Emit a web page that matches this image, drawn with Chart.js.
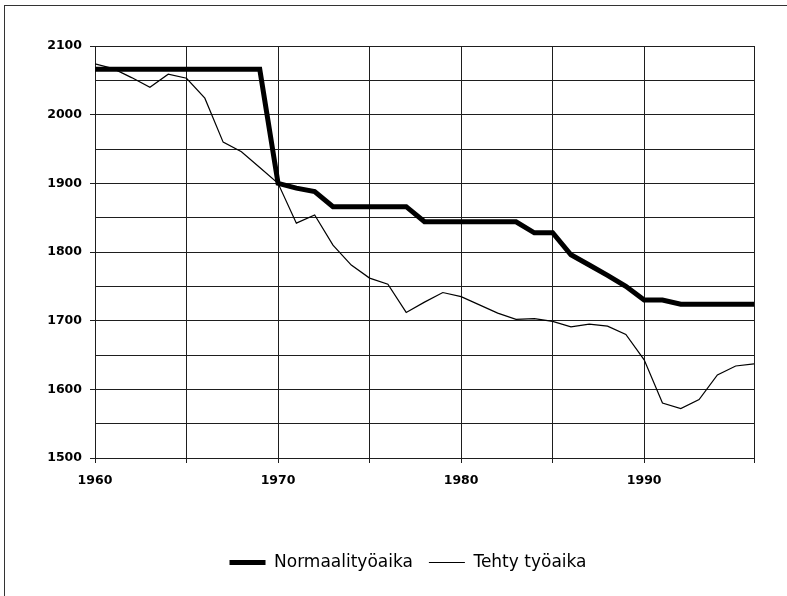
<!DOCTYPE html>
<html lang="fi">
<head>
    <meta charset="UTF-8">
    <title>Normaalityöaika ja tehty työaika</title>
    <script src="https://cdn.jsdelivr.net/npm/chart.js"></script>
    <style>
        body { margin: 0; background: #fff; }
        #frame { position: absolute; left: 4px; top: 5px; width: 783px; height: 591px;
                 border-left: 1px solid #333; border-top: 1px solid #333; }
        #wrap { position: absolute; left: 0; top: 0; width: 787px; height: 596px; }
    </style>
</head>
<body>
    <div id="frame"></div>
    <div id="wrap"><canvas id="chart"></canvas></div>
    <script>
        // vuodet ja sarjat
        const years = [1960, 1961, 1962, 1963, 1964, 1965, 1966, 1967, 1968, 1969,
                       1970, 1971, 1972, 1973, 1974, 1975, 1976, 1977, 1978, 1979,
                       1980, 1981, 1982, 1983, 1984, 1985, 1986, 1987, 1988, 1989,
                       1990, 1991, 1992, 1993, 1994, 1995, 1996];
        const normaali = [2066, 2066, 2066, 2066, 2066, 2066, 2066, 2066, 2066, 2066,
                          1900, 1893, 1888, 1866, 1866, 1866, 1866, 1866, 1844, 1844,
                          1844, 1844, 1844, 1844, 1828, 1828, 1796, 1781, 1766, 1750,
                          1730, 1730, 1724, 1724, 1724, 1724, 1724];
        const tehty = [2074, 2067, 2054, 2040, 2059, 2053, 2024, 1960, 1946, 1923,
                       1900, 1842, 1854, 1810, 1781, 1762, 1753, 1712, 1727, 1741,
                       1735, 1723, 1711, 1702, 1703, 1699, 1691, 1695, 1692, 1680,
                       1643, 1580, 1572, 1585, 1621, 1634, 1637];
        const yTicks = [1500, 1600, 1700, 1800, 1900, 2000, 2100];
        const xTicks = [1960, 1970, 1980, 1990];

        const gridColor = '#1e1e1e';
        Chart.defaults.font.family = 'DejaVu Sans';
        Chart.defaults.color = '#000';

        const toPoints = vals => vals.map((v, i) => ({ x: years[i], y: v }));

        // selite hieman oikealle, kuten alkuperäisessä kuvassa
        const legendShift = {
            id: 'legendShift',
            afterLayout(chart) {
                chart.legend.left += 31;
                chart.legend.right += 31;
            }
        };

        new Chart(document.getElementById('chart'), {
            type: 'line',
            data: {
                datasets: [{
                    label: 'Normaalityöaika',
                    data: toPoints(normaali),
                    borderColor: '#000',
                    backgroundColor: '#000',
                    borderWidth: 5,
                    pointRadius: 0,
                    tension: 0
                }, {
                    label: 'Tehty työaika',
                    data: toPoints(tehty),
                    borderColor: '#000',
                    backgroundColor: '#000',
                    borderWidth: 1.2,
                    pointRadius: 0,
                    tension: 0
                }]
            },
            options: {
                responsive: true,
                maintainAspectRatio: false,
                animation: false,
                layout: { padding: { left: 0, top: 46, right: 33, bottom: 15 } },
                plugins: {
                    tooltip: { enabled: false },
                    legend: {
                        position: 'bottom',
                        labels: {
                            usePointStyle: true,
                            pointStyle: 'line',
                            pointStyleWidth: 36,
                            padding: 16,
                            font: { size: 17 }
                        }
                    }
                },
                scales: {
                    x: {
                        type: 'linear',
                        min: 1960,
                        max: 1996,
                        afterFit: s => { s.height = 80; },
                        ticks: {
                            stepSize: 5,
                            autoSkip: false,
                            maxRotation: 0,
                            padding: 10,
                            font: { size: 12.5, weight: 'bold' },
                            callback: v => xTicks.includes(v) ? String(v) : ''
                        },
                        grid: { color: gridColor, lineWidth: 1, tickLength: 5 },
                        border: { color: gridColor }
                    },
                    y: {
                        min: 1500,
                        max: 2100,
                        afterFit: s => { s.width = 95; },
                        ticks: {
                            stepSize: 50,
                            padding: 8,
                            font: { size: 12.5, weight: 'bold' },
                            callback: v => yTicks.includes(v) ? String(v) : ''
                        },
                        grid: {
                            color: gridColor,
                            lineWidth: 1,
                            tickLength: 5,
                            tickColor: c => (c.tick && yTicks.includes(c.tick.value)) ? gridColor : 'rgba(0,0,0,0)'
                        },
                        border: { color: gridColor }
                    }
                }
            },
            plugins: [legendShift]
        });
    </script>
</body>
</html>
